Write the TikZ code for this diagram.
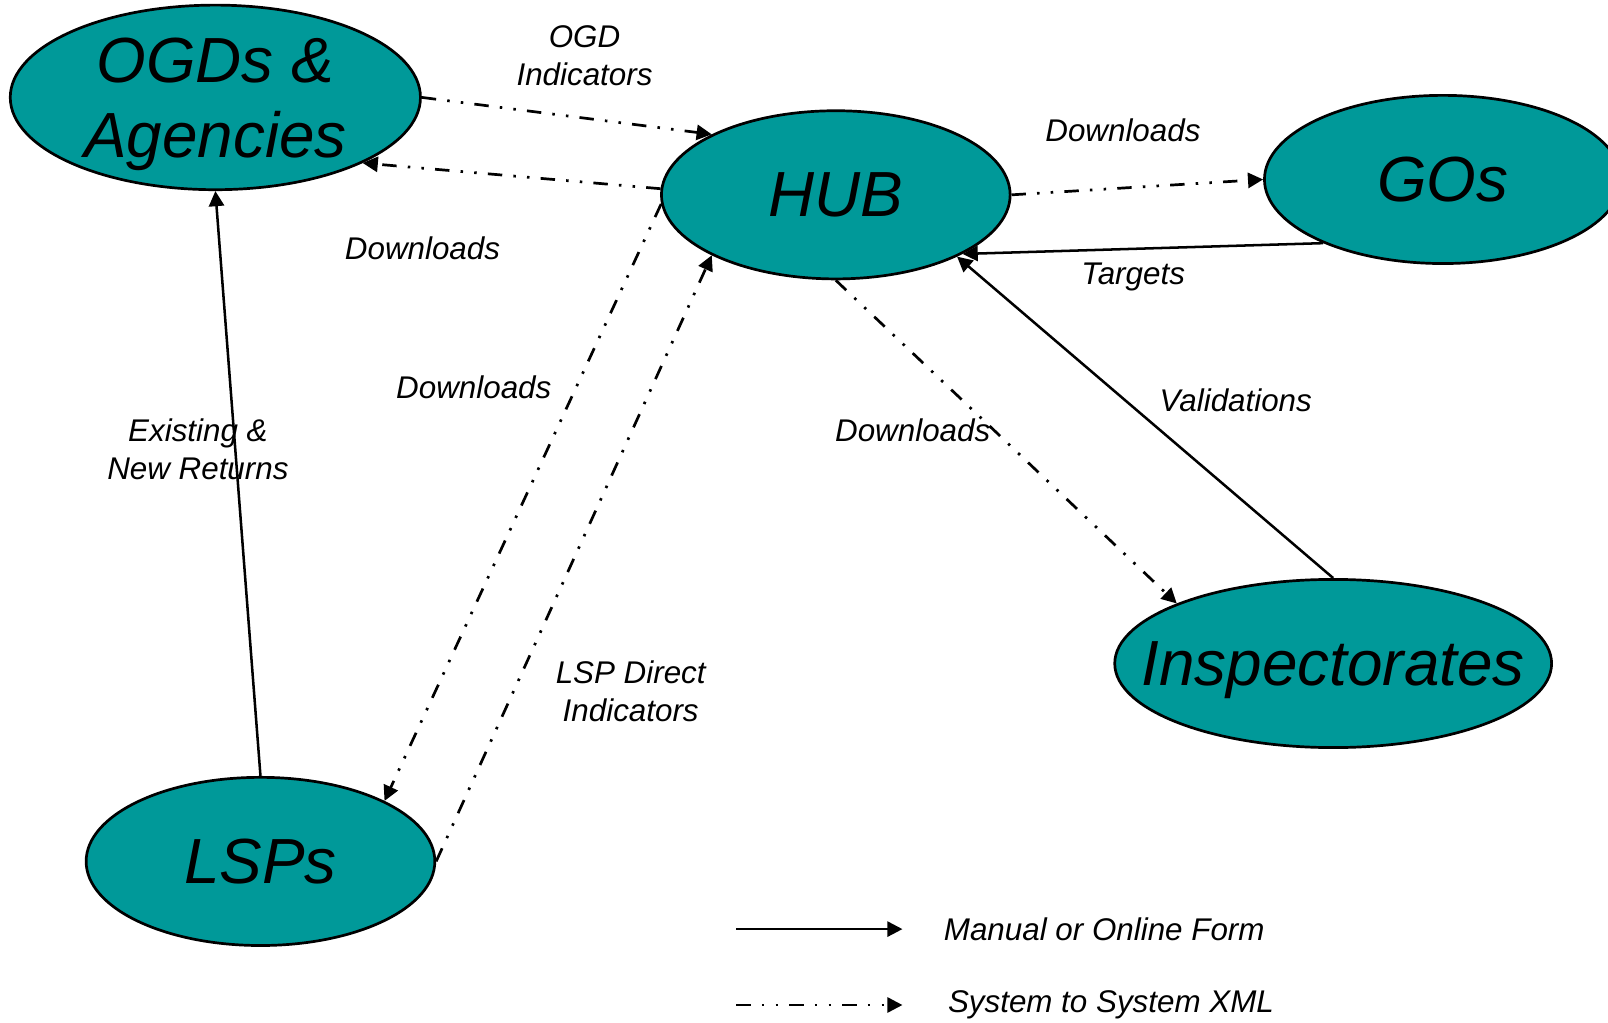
\documentclass[tikz,border=0pt]{standalone}
\usepackage{fontspec}
\setsansfont{Liberation Sans}
\RequirePackage{xcolor}
\definecolor{hubteal}{HTML}{009999}
\tikzset{every picture/.style={/utils/exec={\sffamily\itshape}}}
\usetikzlibrary{calc}
\usetikzlibrary{positioning}
\usetikzlibrary{shapes.geometric}
\usetikzlibrary{arrows.meta}
\tikzset{
  party/.style={ellipse, draw, line width=0.75pt, fill=hubteal, inner sep=0pt},
  partytext/.style={font=\fontsize{17.7}{20.8}\selectfont\itshape, align=center, text depth=0pt},
  flowtext/.style={font=\fontsize{8.7}{10.5}\selectfont\itshape, align=center},
  manual/.style={line width=0.7pt, -{Triangle[length=4.2pt,width=4.2pt]}},
  xml/.style={line width=0.75pt, dash pattern=on 4pt off 3.1pt on 0.7pt off 3.1pt on 0.7pt off 3.1pt,
    -{Triangle[length=4.2pt,width=4.2pt]}},
}

\begin{document}
\begin{tikzpicture}
  \useasboundingbox (0,0) rectangle (15.68,-9.97);

  \node [party, minimum width=4.0cm, minimum height=1.8cm,
    label={[partytext]center:{OGDs \&\\Agencies}}] (ogd) at (2.10,-0.95) {};
  \node [party, minimum width=3.4cm, minimum height=1.64cm,
    label={[partytext]center:HUB}] (hub) at (8.15,-1.90) {};
  \node [party, minimum width=3.48cm, minimum height=1.64cm,
    label={[partytext]center:GOs}] (gos) at (14.07,-1.75) {};
  \node [party, minimum width=4.26cm, minimum height=1.64cm,
    label={[partytext]center:Inspectorates}] (insp) at (13.00,-6.47) {};
  \node [party, minimum width=3.4cm, minimum height=1.64cm,
    label={[partytext]center:LSPs}] (lsp) at (2.54,-8.40) {};

  % flows
  \draw [xml] (ogd.east) -- (hub.154);
  \draw [xml] (hub.178) -- (ogd.-24);
  \draw [xml] (hub.east) -- (gos.west);
  \draw [manual] (gos.208) -- (hub.-25);
  \draw [manual] (insp.north) -- (hub.-27);
  \draw [xml] (hub.south) -- (insp.159);
  \draw [xml] (hub.183) -- (lsp.26);
  \draw [xml] (lsp.east) -- (hub.206);
  \draw [manual] (lsp.north) -- (ogd.south);

  \node [flowtext] (ogdind) at (5.70,-0.54) {OGD\\Indicators};
  \node [flowtext] (dlgos) at (10.95,-1.27) {Downloads};
  \node [flowtext] (dlogd) at (4.12,-2.42) {Downloads};
  \node [flowtext] (tgt) at (11.05,-2.70) {Targets};
  \node [flowtext] (dllsp) at (4.62,-3.78) {Downloads};
  \node [flowtext] (valid) at (12.05,-3.90) {Validations};
  \node [flowtext] (dlinsp) at (8.90,-4.20) {Downloads};
  \node [flowtext] (returns) at (1.93,-4.38) {Existing \&\\New Returns};
  \node [flowtext] (lspind) at (6.15,-6.74) {LSP Direct\\Indicators};

  % legend
  \coordinate (manstart) at (7.18,-9.06);
  \coordinate (manend) at (8.80,-9.06);
  \coordinate (xmlstart) at (7.18,-9.80);
  \coordinate (xmlend) at (8.80,-9.80);
  \draw [manual] (manstart) -- (manend);
  \draw [xml] (xmlstart) -- (xmlend);
  \node [flowtext, right=0.28cm of manend] (manlab) {Manual or Online Form};
  \node [flowtext, right=0.32cm of xmlend] (xmllab) {System to System XML};

\end{tikzpicture}
\end{document}
